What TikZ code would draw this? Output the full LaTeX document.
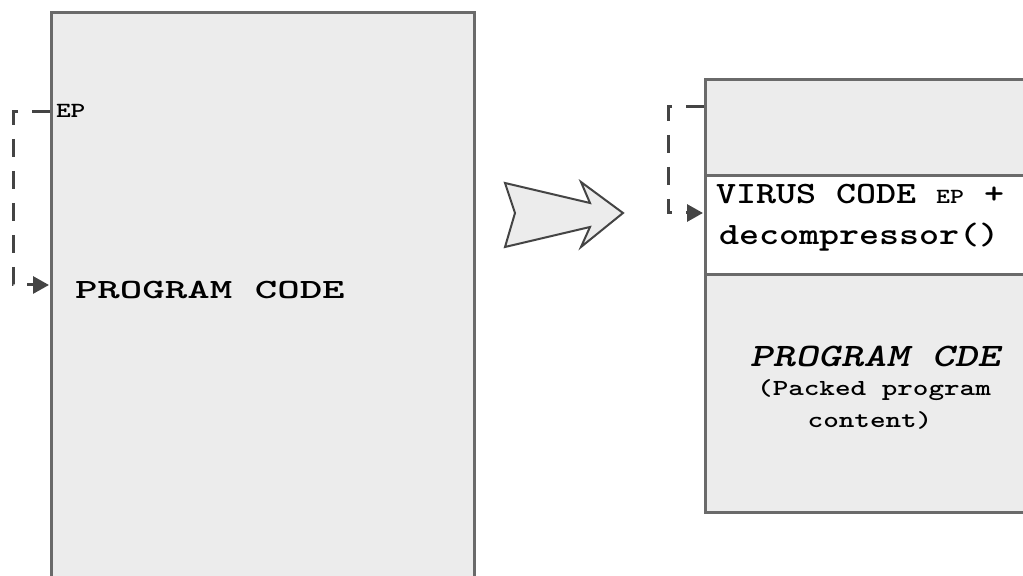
\documentclass[tikz,border=0pt]{standalone}
\usepackage{fontspec}
\usetikzlibrary{arrows.meta,positioning}
\definecolor{boxline}{HTML}{6A6A6A}
\definecolor{boxfill}{HTML}{ECECEC}
\definecolor{jumpline}{HTML}{444444}

\begin{document}
\begin{tikzpicture}[x=0.5pt, y=-0.5pt, every node/.style={inner sep=0pt, outer sep=0pt}, block/.style={draw=boxline, line width=1.5pt, fill=boxfill, anchor=north west, minimum width=169pt}, txt/.style={font=\ttfamily\bfseries\fontsize{#1}{#1}\selectfont, transform shape}, jump/.style={draw=jumpline, line width=1.5pt, dash pattern=on 9pt off 7pt, -{Triangle[length=8pt, width=8.5pt]}}, bigarrow/.style={draw=jumpline, fill=boxfill, line width=1pt, line join=miter}]
\useasboundingbox (0,0) rectangle (1023,576);
\clip (0,0) rectangle (1023,576);

% original program
\node[block, minimum width=211.5pt, minimum height=350pt] (prog) at (51,13) {};
\node[txt=10.8, xscale=1.3, anchor=base west] (eptag) at (56,118) {EP};
\node[txt=13.9, xscale=1.54, anchor=base west] (progtxt) at (75,299) {PROGRAM CODE};
\coordinate (epL) at (50,112);
\coordinate (inL) at (49,285);
\draw[jump] (epL) -- ++(-37,0) |- (inL);

% packing step
\draw[bigarrow] (505,183) -- (590,203) -- (581,182) -- (623,213) -- (581,247) -- (590,227) -- (505,247) -- (515,213) -- cycle;

% infected program
\node[block, minimum height=48pt] (head) at (705,80) {};
\node[block, fill=white, minimum height=49.5pt] (virus) at (head.south west) {};
\node[block, minimum height=119pt] (packed) at (virus.south west) {};
\node[txt=15.5, xscale=1.23, anchor=base west] (virtxt) at (716,204) {VIRUS CODE {\fontsize{10.8}{10.8}\selectfont EP} +};
\node[txt=15.5, xscale=1.23, anchor=base west] (dectxt) at (719,245) {decompressor()};
\node[txt=16.4, xscale=1.32, anchor=base] (packtitle) at (875,367) {\itshape PROGRAM CDE};
\node[txt=11.5, xscale=1.29, anchor=base] (packnote) at (874,396) {(Packed program};
\node[txt=11.5, xscale=1.29, anchor=base] (packnote2) at (870,428) {content)};
\coordinate (epR) at (704,107);
\coordinate (inR) at (703,213);
\draw[jump] (epR) -- ++(-36,0) |- (inR);
\end{tikzpicture}
\end{document}
